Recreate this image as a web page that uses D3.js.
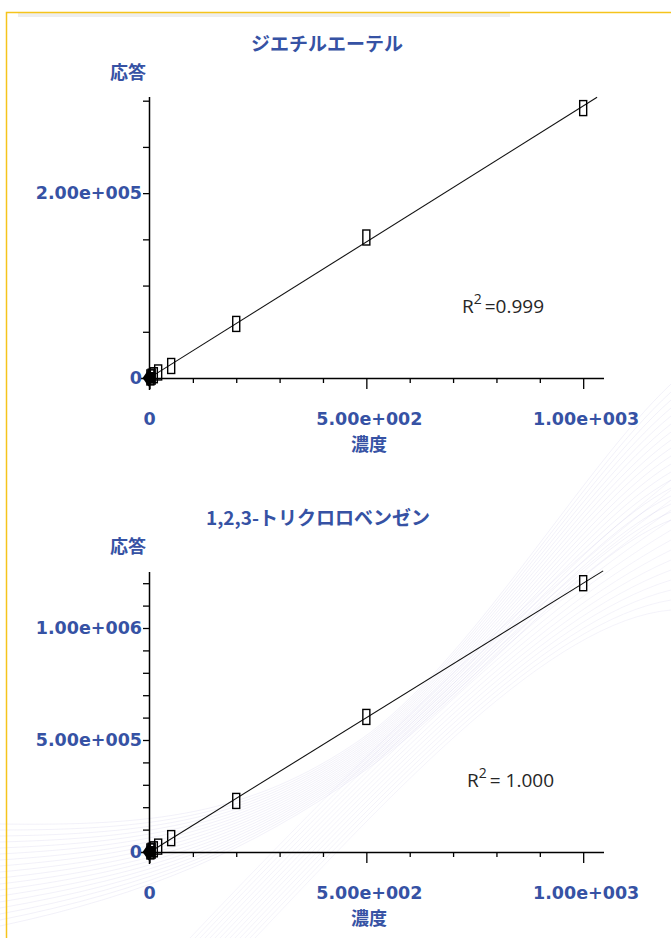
<!DOCTYPE html>
<html>
<head>
<meta charset="utf-8">
<script src="https://cdn.jsdelivr.net/npm/d3@7"></script>
<style>
  body { margin: 0; background: #ffffff; }
</style>
</head>
<body>
<div id="canvas"></div>
<script>
"use strict"

// data
let concentrations = [0, 2, 5, 10, 20, 50, 200, 500, 1000];
let ether = [0, 600, 1500, 3000, 6000, 13000, 58500, 152000, 292000];
let benzene = [0, 2400, 6000, 12000, 24000, 62000, 228000, 603000, 1200000];

let titles = ["ジエチルエーテル", "1,2,3-トリクロロベンゼン"];
let r2Labels = ["=0.999", "= 1.000"];
let xTickValues = [0, 500, 1000];
let xTickLabels = ["0", "5.00e+002", "1.00e+003"];
let etherTickValues = [0, 200000];
let etherTickLabels = ["0", "2.00e+005"];
let benzeneTickValues = [0, 500000, 1000000];
let benzeneTickLabels = ["0", "5.00e+005", "1.00e+006"];

let blue = "#3652a4";
let numFont = "'DejaVu Sans', sans-serif";
let jpFont = "'Noto Sans CJK JP', sans-serif";

let drawing = d3.select("#canvas")
    .append("svg")
    .attr("width", 671)
    .attr("height", 938);

/* background swooshes */
let waves = drawing.append("g").attr("fill", "none").attr("stroke", "#b4acdc");
for (let i = 0; i < 18; i++) {
    waves.append("path")
        .attr("d", "M0," + (824 + i * 6) + " C150," + (826 + i * 4) + " 250," + (816 + i * 2) + " 360," + (740 + i * 2)
            + " S580," + (470 + i * 5) + " 671," + (384 + i * 8))
        .attr("stroke-opacity", 0.17)
        .attr("stroke-width", 1);
}
for (let i = 0; i < 14; i++) {
    waves.append("path")
        .attr("d", "M" + (190 + i * 5) + ",938 C" + (330 + i * 5) + ",790 " + (500 + i * 4) + ",620 671," + (480 + i * 10))
        .attr("stroke-opacity", 0.15)
        .attr("stroke-width", 1);
}

/* frame */
drawing.append("rect")
    .attr("x", 18).attr("y", 13)
    .attr("width", 492).attr("height", 4)
    .attr("fill", "#eeeeee");
drawing.append("path")
    .attr("d", "M6.5,938 V12.5 H671")
    .attr("fill", "none")
    .attr("stroke", "#f5c41c")
    .attr("stroke-width", 1.5);

function drawChart(cfg) {
    let g = drawing.append("g");

    let x = d3.scaleLinear().domain([0, 1048]).range([149.5, 604]);
    let y = d3.scaleLinear().domain([0, cfg.yMax]).range([cfg.y0, cfg.yTop]);

    // title and axis names
    g.append("text")
        .attr("x", cfg.titleX).attr("y", cfg.y0 - 327)
        .attr("text-anchor", "middle")
        .attr("font-family", jpFont).attr("font-weight", "bold")
        .attr("font-size", 19).attr("fill", blue)
        .text(cfg.title);
    g.append("text")
        .attr("x", 110).attr("y", cfg.y0 - 299)
        .attr("font-family", jpFont).attr("font-weight", "bold")
        .attr("font-size", 18).attr("fill", blue)
        .text("応答");
    g.append("text")
        .attr("x", 369).attr("y", cfg.y0 + 73)
        .attr("text-anchor", "middle")
        .attr("font-family", jpFont).attr("font-weight", "bold")
        .attr("font-size", 18).attr("fill", blue)
        .text("濃度");

    // axes
    let xAxis = d3.axisBottom(x)
        .tickValues(d3.range(0, 1001, 100))
        .tickSize(5)
        .tickFormat("");
    let xg = g.append("g")
        .attr("transform", "translate(0," + cfg.y0 + ")")
        .call(xAxis);
    xg.select(".domain").attr("d", "M141," + 0.5 + "H604").attr("stroke-width", 1.5);
    xg.selectAll(".tick line")
        .attr("y2", d => xTickValues.includes(d) ? 11 : 5)
        .attr("stroke-width", 1.3);

    let yAxis = d3.axisLeft(y)
        .tickValues(d3.range(0, cfg.yMax, cfg.yStep))
        .tickSize(6)
        .tickFormat("");
    let yg = g.append("g")
        .attr("transform", "translate(149,0)")
        .call(yAxis);
    yg.select(".domain").attr("d", "M0.5," + cfg.yTop + "V" + (cfg.y0 + 12)).attr("stroke-width", 1.5);
    yg.selectAll(".tick line").attr("stroke-width", 1.3);

    // tick labels
    g.selectAll(".xlab")
        .data(xTickValues)
        .enter().append("text")
        .attr("x", (d, i) => x(d) + (i == 0 ? 0 : 3))
        .attr("y", cfg.y0 + 47)
        .attr("text-anchor", "middle")
        .attr("font-family", numFont).attr("font-weight", "bold")
        .attr("font-size", 17.5).attr("fill", blue)
        .text((d, i) => xTickLabels[i]);
    g.selectAll(".ylab")
        .data(cfg.yTicks)
        .enter().append("text")
        .attr("x", 142)
        .attr("y", d => y(d) + 6)
        .attr("text-anchor", "end")
        .attr("font-family", numFont).attr("font-weight", "bold")
        .attr("font-size", 17.5).attr("fill", blue)
        .text((d, i) => cfg.yLabels[i]);

    // least squares line through the points
    let mx = d3.mean(concentrations);
    let my = d3.mean(cfg.values);
    let sxy = d3.sum(concentrations, (c, i) => (c - mx) * (cfg.values[i] - my));
    let sxx = d3.sum(concentrations, c => (c - mx) * (c - mx));
    let slope = sxy / sxx;
    let icpt = my - slope * mx;
    let line = d3.line().x(d => x(d)).y(d => y(icpt + slope * d));
    g.append("path")
        .attr("d", line([0, cfg.lineEnd]))
        .attr("fill", "none")
        .attr("stroke", "#111")
        .attr("stroke-width", 1.1);

    // markers
    g.selectAll(".pt")
        .data(concentrations.slice(1))
        .enter().append("rect")
        .attr("x", d => x(d) - 3.5)
        .attr("y", (d, i) => y(cfg.values[i + 1]) - 7.5)
        .attr("width", 7)
        .attr("height", 15)
        .attr("fill", "none")
        .attr("stroke", "#000")
        .attr("stroke-width", 1.4);
    g.append("path")
        .attr("d", d3.symbol(d3.symbolDiamond, 90)())
        .attr("transform", "translate(" + (x(0) - 1) + "," + y(0) + ") scale(1.15,0.95)")
        .attr("fill", "#000");
    g.append("rect")
        .attr("x", x(0) - 2).attr("y", y(0) - 6)
        .attr("width", 8).attr("height", 11)
        .attr("fill", "#000");

    // R squared
    let r = g.append("text")
        .attr("x", cfg.r2x).attr("y", cfg.r2y)
        .attr("font-family", "'Open Sans', sans-serif")
        .attr("font-size", 19).attr("fill", "#262626");
    r.append("tspan").text("R");
    r.append("tspan").attr("dy", -9).attr("font-size", 14).text("2");
    r.append("tspan").attr("dy", 9).attr("dx", 3).text(cfg.r2);
}

drawChart({
    title: titles[0], titleX: 327, values: ether,
    y0: 378, yTop: 97, yMax: 304000, yStep: 50000,
    yTicks: etherTickValues, yLabels: etherTickLabels,
    lineEnd: 1032, r2: r2Labels[0], r2x: 462, r2y: 313
});
drawChart({
    title: titles[1], titleX: 318, values: benzene,
    y0: 852, yTop: 572, yMax: 1250000, yStep: 100000,
    yTicks: benzeneTickValues, yLabels: benzeneTickLabels,
    lineEnd: 1046, r2: r2Labels[1], r2x: 467, r2y: 787
});
</script>
</body>
</html>
